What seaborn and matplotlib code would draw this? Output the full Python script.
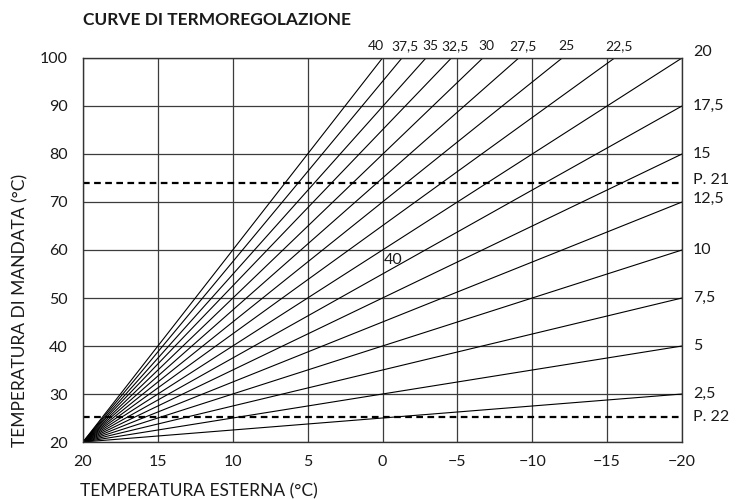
import matplotlib
matplotlib.use("Agg")
import matplotlib.pyplot as plt
import pandas as pd
import seaborn as sns

# Curve dati
curve_vals = [2.5, 5, 7.5, 10, 12.5, 15, 17.5, 20,
              22.5, 25, 27.5, 30, 32.5, 35, 37.5, 40]
curve_labels = ["2,5", "5", "7,5", "10", "12,5", "15", "17,5", "20",
                "22,5", "25", "27,5", "30", "32,5", "35", "37,5", "40"]
start_x = 20
start_y = 20
end_x = [-20, -20, -20, -20, -20, -20, -20, -20,
         -15.5, -12.0, -9.1, -6.7, -4.6, -2.9, -1.3, 0.0]
end_y = [30, 40, 50, 60, 70, 80, 90, 100,
         100, 100, 100, 100, 100, 100, 100, 100]

p_levels = [74, 25.3]
p_labels = ["P. 21", "P. 22"]

x_ticks = [20, 15, 10, 5, 0, -5, -10, -15, -20]
y_ticks = [20, 30, 40, 50, 60, 70, 80, 90, 100]

# posizione delle etichette (solo layout)
right_label_y = [30, 40, 50, 60, 70.7, 80, 90, 101.2]
p_label_y = [74.6, 25.2]
top_dx = [3, 3, 3, 2.5, 3, 3.5, 2.5, -5]   # punti, per 22,5 ... 40

sns.set_theme(style="white")
plt.rcParams["font.family"] = ["Lato", "DejaVu Sans"]

rows = []
for v, x1, y1 in zip(curve_vals, end_x, end_y):
    rows.append({"curve": v, "x": start_x, "y": start_y})
    rows.append({"curve": v, "x": x1, "y": y1})
df = pd.DataFrame(rows)

fig = plt.figure(figsize=(7.37, 5.0), dpi=100)
ax = fig.add_axes([83 / 737, 1 - 442 / 500, (682 - 83) / 737, (442 - 58) / 500])

ax.set_axisbelow(True)
ax.grid(True, color="#3c3c3c", lw=0.9)

sns.lineplot(data=df, x="x", y="y", units="curve", estimator=None,
             color="black", lw=0.8, ax=ax, sort=False)

for lvl in p_levels:
    ax.axhline(lvl, color="black", lw=1.6, ls=(0, (3, 2)))

ax.set_xlim(20, -20)
ax.set_ylim(20, 100)
ax.set_xticks(x_ticks)
ax.set_yticks(y_ticks)
ax.set_xticklabels([f"{t:g}".replace("-", "\u2212") for t in x_ticks])
ax.set_xlabel("")
ax.set_ylabel("")
ax.tick_params(axis="both", direction="out", length=4, width=0.8,
               color="#333333", labelsize=11.5, labelcolor="#1a1a1a")
ax.tick_params(axis="x", pad=5)
ax.tick_params(axis="y", pad=7)
for sp in ax.spines.values():
    sp.set_edgecolor("#333333")
    sp.set_linewidth(1.0)

# etichette in alto (curve ripide)
top = [(lab, x1, y1) for lab, x1, y1 in zip(curve_labels, end_x, end_y) if x1 > -20]
for (lab, x1, y1), dx in zip(top, top_dx):
    ax.annotate(lab, (x1, y1), xytext=(dx, 4), textcoords="offset points",
                ha="center", va="bottom", fontsize=10,
                color="#1a1a1a", annotation_clip=False)

# etichette a destra
right_labs = [lab for lab, x1 in zip(curve_labels, end_x) if x1 == -20]
for lab, yv in zip(right_labs, right_label_y):
    ax.annotate(lab, (-20, yv), xytext=(8, 0), textcoords="offset points",
                ha="left", va="center", fontsize=11.5, color="#1a1a1a",
                annotation_clip=False)
for lab, yv in zip(p_labels, p_label_y):
    ax.annotate(lab, (-20, yv), xytext=(8, 0), textcoords="offset points",
                ha="left", va="center", fontsize=11.5, color="#1a1a1a",
                annotation_clip=False)

# etichetta isolata al centro
ax.text(-0.1, 58, "40", ha="left", va="center", fontsize=11.5, color="#1a1a1a")

fig.text(83 / 737, 1 - 20 / 500, "CURVE DI TERMOREGOLAZIONE", ha="left",
         va="center", fontsize=12.5, fontweight="bold", color="#1a1a1a")
fig.text(80 / 737, 1 - 491 / 500, "TEMPERATURA ESTERNA (°C)", ha="left",
         va="center", fontsize=12.5, color="#1a1a1a")
fig.text(20 / 737, 1 - 447 / 500, "TEMPERATURA DI MANDATA (°C)", ha="center",
         va="bottom", rotation=90, fontsize=12.5, color="#1a1a1a")

fig.savefig("out.png", dpi=100)
